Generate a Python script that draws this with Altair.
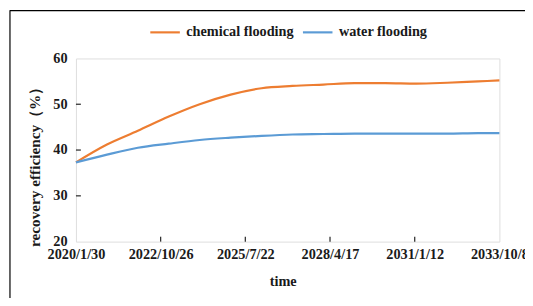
import altair as alt
import pandas as pd

dates = ["2020-01-30", "2021-01-30", "2022-01-30", "2023-01-30", "2024-01-30",
         "2025-01-30", "2026-01-30", "2027-01-30", "2028-01-30", "2029-01-30",
         "2030-01-30", "2031-01-30", "2032-01-30", "2033-01-30", "2033-10-08"]
chemical = [37.3, 41.2, 44.2, 47.3, 50.0, 52.1, 53.5, 54.0, 54.3, 54.6,
            54.6, 54.5, 54.7, 55.0, 55.2]
water = [37.3, 39.0, 40.5, 41.4, 42.2, 42.7, 43.1, 43.4, 43.5, 43.6,
         43.6, 43.6, 43.6, 43.7, 43.7]
series = ["chemical flooding", "water flooding"]
colors = ["#ED7D31", "#5B9BD5"]
x_tick_days = [0, 1000, 2000, 3000, 4000, 5000]
x_tick_labels = ["2020/1/30", "2022/10/26", "2025/7/22", "2028/4/17", "2031/1/12", "2033/10/8"]
y_ticks = [20, 30, 40, 50, 60]

start = pd.Timestamp(dates[0])
days = [(pd.Timestamp(d) - start).days for d in dates]
df = pd.concat([
    pd.DataFrame({"day": days, "value": chemical, "series": series[0]}),
    pd.DataFrame({"day": days, "value": water, "series": series[1]}),
])

FONT = "Liberation Serif"
TXT = "#1a1a1a"
W, H = 430, 186

label_map = "{" + ",".join(f"'{d}':'{l}'" for d, l in zip(x_tick_days, x_tick_labels)) + "}"

xscale = alt.Scale(domain=[0, 5000], nice=False, zero=False)
yscale = alt.Scale(domain=[20, 60], nice=False, zero=False)

x_axis = alt.Axis(
    values=x_tick_days, labelExpr=label_map + "[datum.value]", title="time",
    tickSize=0, domain=False, grid=False, labelPadding=6,
    labelFont=FONT, labelFontWeight="bold", labelFontSize=14.5, labelColor=TXT,
    titleFont=FONT, titleFontWeight="bold", titleFontSize=14.5, titleColor=TXT,
    titleX=210, titleY=41, titleBaseline="middle", labelFlush=False,
    labelOverlap=False)
y_axis = alt.Axis(
    values=y_ticks, title="recovery efficiency（%）", tickSize=0, domain=False,
    grid=False, labelPadding=9,
    labelFont=FONT, labelFontWeight="bold", labelFontSize=14.5, labelColor=TXT,
    titleFont=FONT, titleFontWeight="bold", titleFontSize=15.5, titleColor=TXT,
    titleX=-42, titleY=106, titleAngle=270, titleBaseline="middle",
    titleAlign="center")

lines = alt.Chart(df).mark_line(strokeWidth=2.2, interpolate="monotone").encode(
    x=alt.X("day:Q", scale=xscale, axis=x_axis),
    y=alt.Y("value:Q", scale=yscale, axis=y_axis),
    color=alt.Color("series:N", scale=alt.Scale(domain=series, range=colors),
                    legend=alt.Legend(
                        title=None, orient="none", direction="horizontal",
                        legendX=74, legendY=-43, symbolType="stroke",
                        symbolSize=900, symbolStrokeWidth=2.2, columnPadding=4,
                        labelOffset=5, labelFont=FONT, labelFontWeight="bold",
                        labelFontSize=14.5, labelColor=TXT)),
)

ytick_df = pd.DataFrame({"value": y_ticks[1:-1]})
yticks = alt.Chart(ytick_df).mark_rule(color="#333333", strokeWidth=1.3).encode(
    y=alt.Y("value:Q", scale=yscale, axis=y_axis),
    x=alt.value(0), x2=alt.value(5))

xtick_df = pd.DataFrame({"day": x_tick_days[1:-1]})
xticks = alt.Chart(xtick_df).mark_rule(color="#333333", strokeWidth=1.3).encode(
    x=alt.X("day:Q", scale=xscale, axis=x_axis),
    y=alt.value(H), y2=alt.value(H - 5))

one = pd.DataFrame({"a": [0]})
box_top = alt.Chart(one).mark_rule(color="#000000", strokeWidth=1.2).encode(
    x=alt.value(-67), x2=alt.value(460), y=alt.value(-48.5))
box_left = alt.Chart(one).mark_rule(color="#000000", strokeWidth=1.2).encode(
    x=alt.value(-67), y=alt.value(-49), y2=alt.value(245))

chart = alt.layer(lines, yticks, xticks, box_top, box_left).properties(
    width=W, height=H,
    autosize=alt.AutoSizeParams(type="none"),
    padding={"left": 69, "top": 49, "right": 26, "bottom": 55},
).configure_view(stroke="#404040", strokeWidth=1.6).configure(background="white")

chart.save("out.html", embed_options={"renderer": "svg", "actions": False})
